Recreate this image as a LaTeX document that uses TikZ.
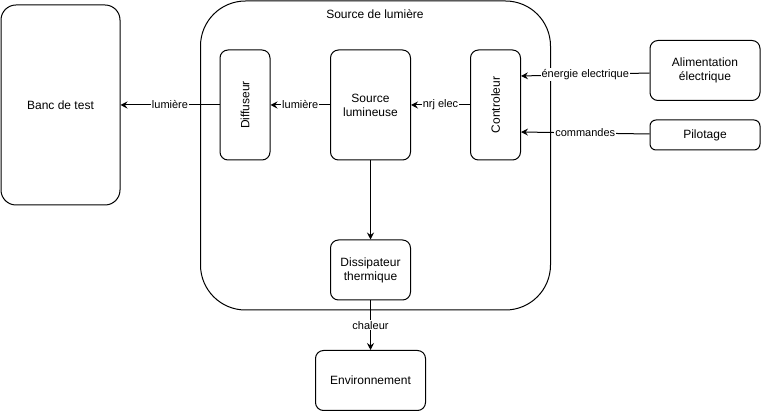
\documentclass[tikz,border=0pt]{standalone}
\usepackage{fontspec}
\setmainfont{Liberation Sans}
\usepackage{graphicx}
\usetikzlibrary{arrows.meta}
\begin{document}
\begin{tikzpicture}[x=1pt,y=-1pt,
  blk/.style={draw, line width=1pt, rounded corners=#1, inner sep=0pt, align=center,
    font=\fontsize{12}{14}\selectfont},
  blk/.default=8pt,
  lbl/.style={fill=white, inner sep=1pt, font=\fontsize{11}{13}\selectfont},
  arr/.style={line width=1pt, -{Stealth[length=7pt,width=7pt,inset=2.5pt]}}]
\useasboundingbox (0,0) rectangle (761,411);
\node[blk=45pt, minimum width=350pt, minimum height=309pt] (cont) at (375.5,155.5) {};
\node[font=\fontsize{12}{14}\selectfont] (title) at (375,14) {Source de lumière};
\node[blk=15pt, minimum width=119pt, minimum height=200pt] (banc) at (60.5,105) {Banc de test};
\node[blk, minimum width=50pt, minimum height=110pt] (diff) at (245,105) {\rotatebox{90}{Diffuseur}};
\node[blk, minimum width=80pt, minimum height=110pt] (src) at (370.5,105) {Source\\lumineuse};
\node[blk, minimum width=50pt, minimum height=110pt] (ctrl) at (495.5,105) {\rotatebox{90}{Controleur}};
\node[blk, minimum width=80pt, minimum height=60pt] (diss) at (370.5,270) {Dissipateur\\thermique};
\node[blk, minimum width=110pt, minimum height=60pt] (env) at (370.5,380.5) {Environnement};
\node[blk, minimum width=110pt, minimum height=60pt] (alim) at (705,70.5) {Alimentation\\électrique};
\node[blk=6pt, minimum width=110pt, minimum height=30pt] (pilot) at (705,135) {Pilotage};
\draw[arr] (diff.west) -- node[lbl]{lumière} (banc.east);
\draw[arr] (src.west) -- node[lbl]{lumière} (diff.east);
\draw[arr] (ctrl.west) -- node[lbl]{nrj elec} (src.east);
\draw[arr] ([yshift=-2.5pt]alim.west) -- node[lbl]{énergie electrique} ([yshift=29pt]ctrl.east);
\draw[arr] ([yshift=1pt]pilot.west) -- node[lbl]{commandes} ([yshift=-27pt]ctrl.east);
\draw[arr] (src.south) -- (diss.north);
\draw[arr] (diss.south) -- node[lbl]{chaleur} (env.north);
\end{tikzpicture}
\end{document}
